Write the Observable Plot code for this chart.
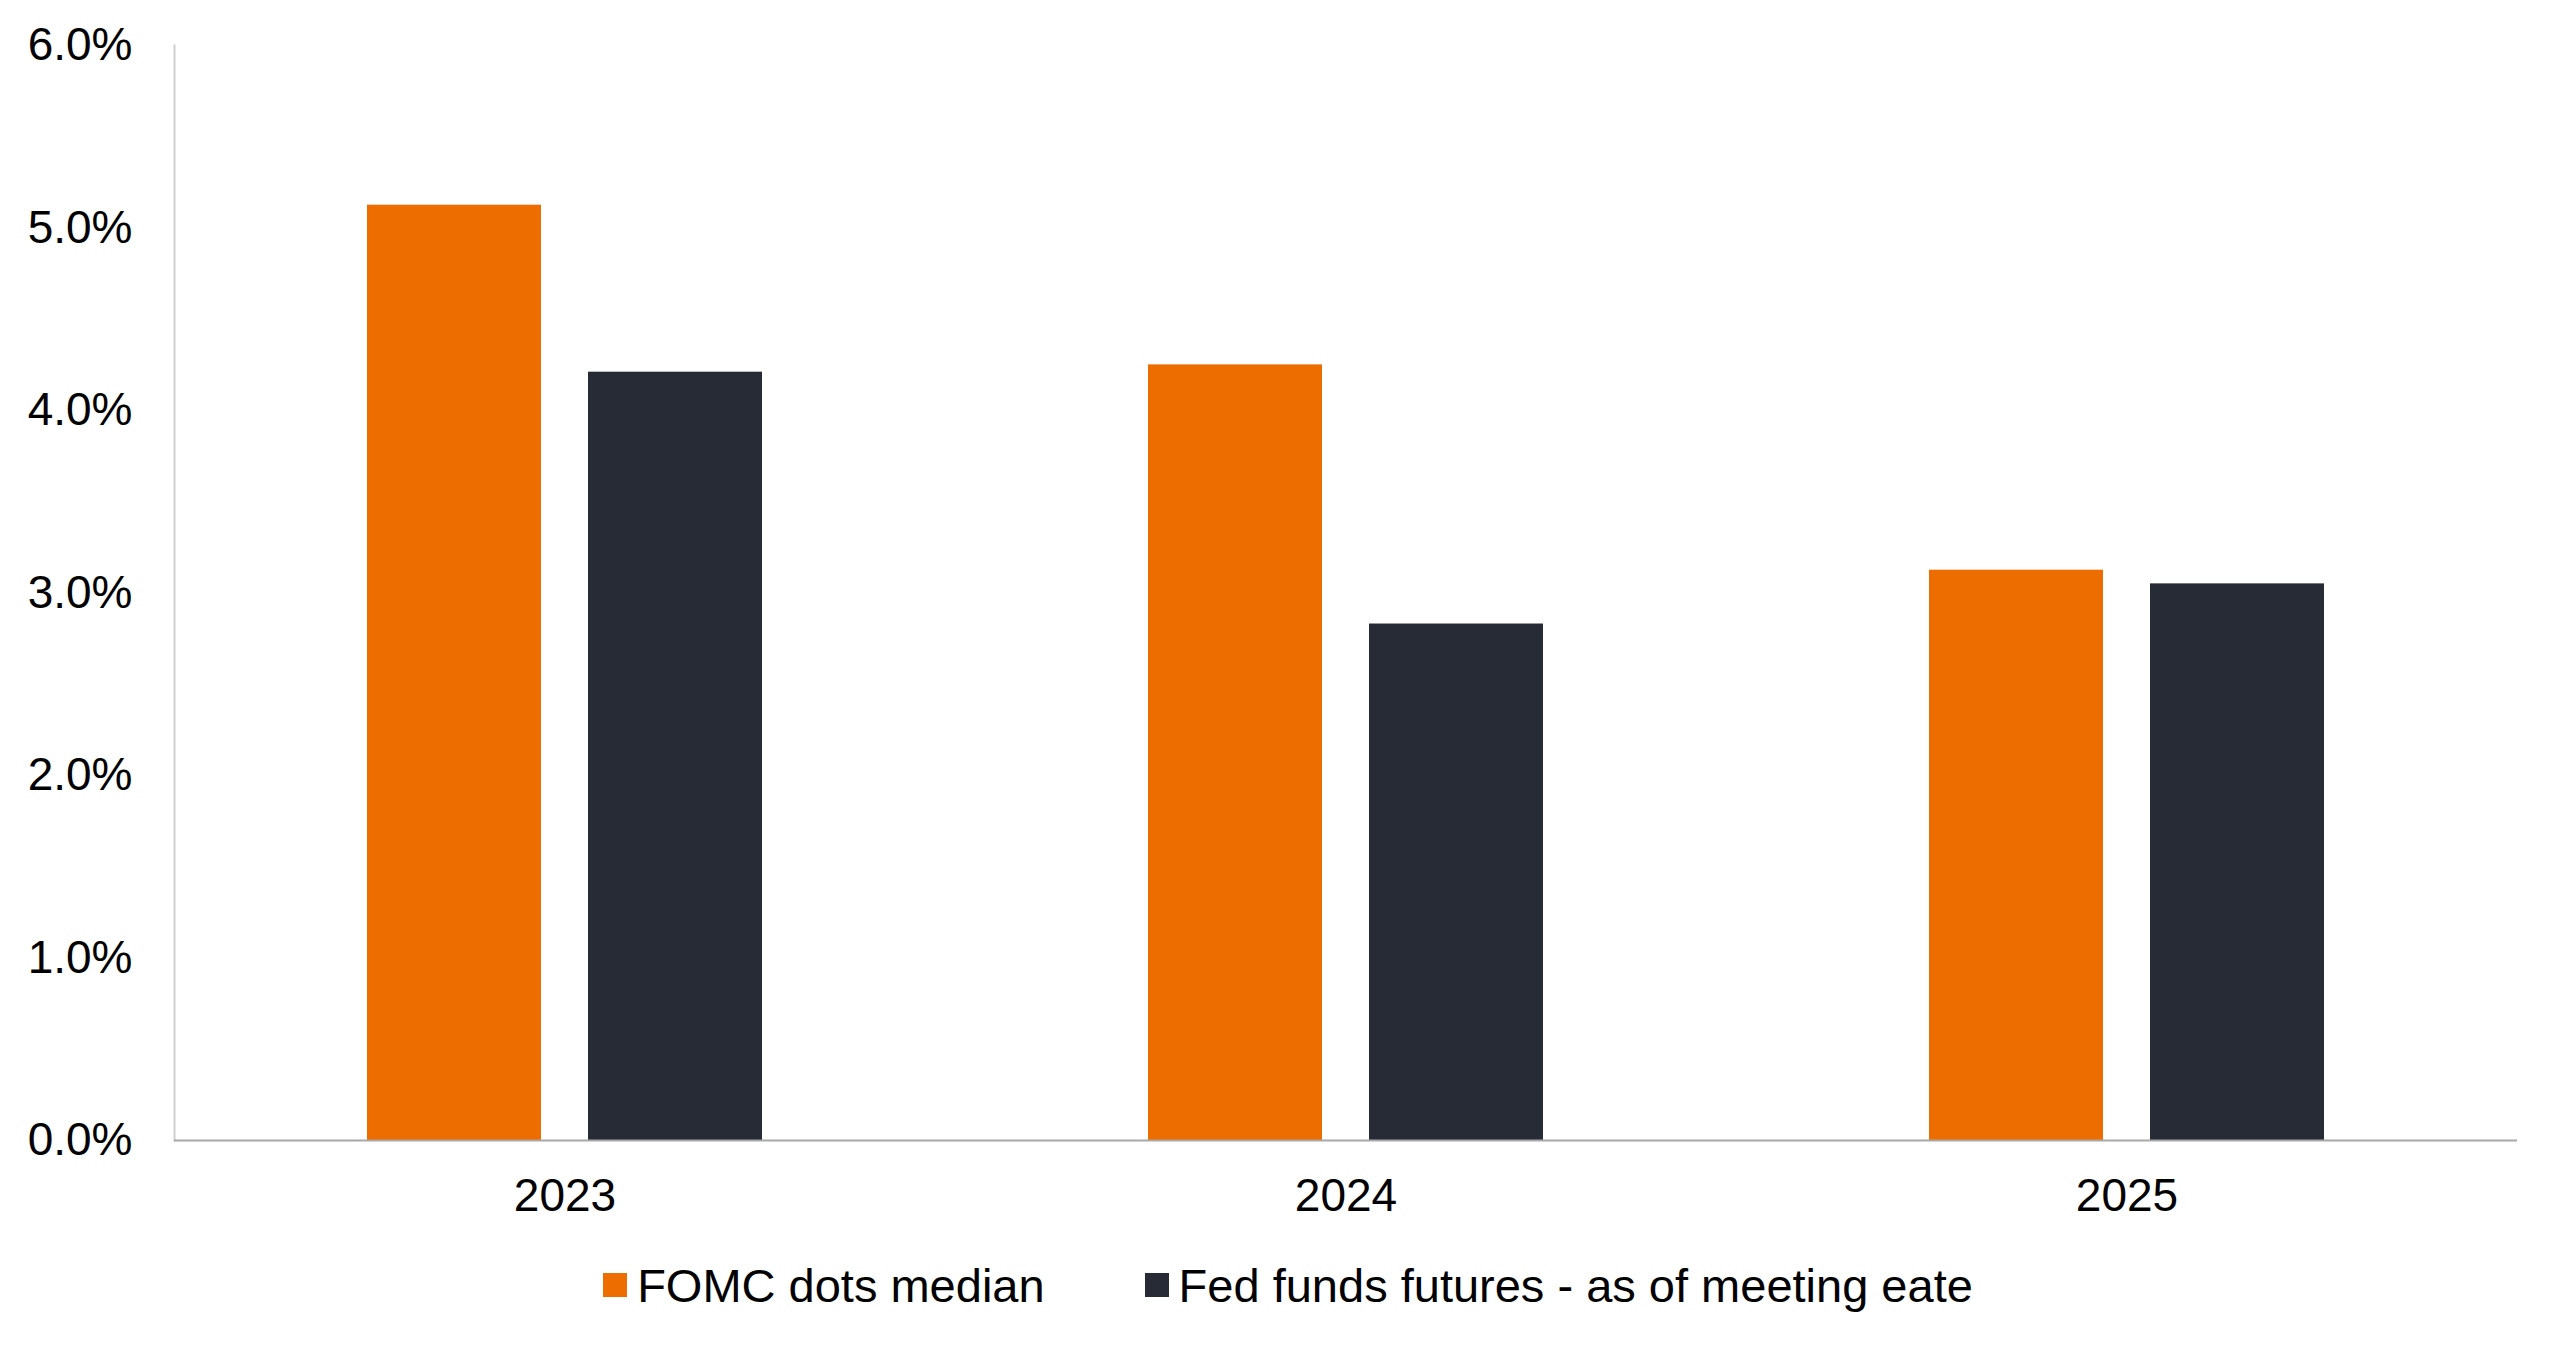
<!DOCTYPE html>
<html>
<head>
<meta charset="utf-8">
<script src="https://cdn.jsdelivr.net/npm/d3@7"></script>
<script src="https://cdn.jsdelivr.net/npm/@observablehq/plot@0.6"></script>
<style>
  html, body { margin: 0; padding: 0; background: #fff; }
  body { width: 2560px; font-family: "Liberation Sans", Arial, sans-serif; }
  #legend { display: flex; justify-content: center; align-items: center; height: 110px; font-size: 47px; color: #000; padding-left: 16px; }
  .item { display: flex; align-items: center; margin: 0 50px; }
  .sw { width: 24px; height: 24px; margin-right: 10px; }
</style>
</head>
<body>
<div id="chart"></div>
<div id="legend"></div>
<script>
const years = ["2023", "2024", "2025"];
const seriesNames = ["FOMC dots median", "Fed funds futures - as of meeting eate"];
const fomcDots = [5.125, 4.25, 3.125];
const fedFutures = [4.21, 2.83, 3.05];
const colors = ["#EE6D00", "#272B36"];
const yTicks = [0, 1, 2, 3, 4, 5, 6];

const data = [];
years.forEach((yr, i) => {
  data.push({year: yr, series: seriesNames[0], value: fomcDots[i]});
  data.push({year: yr, series: seriesNames[1], value: fedFutures[i]});
});

const chart = Plot.plot({
  width: 2560,
  height: 1230,
  marginTop: 45,
  marginBottom: 90,
  marginLeft: 174,
  marginRight: 43,
  style: {fontFamily: '"Liberation Sans", Arial, sans-serif', fontSize: "46px", color: "#000", background: "#fff"},
  fx: {domain: years, padding: 0, label: null},
  x: {domain: seriesNames, paddingInner: 0.2117, paddingOuter: 0.865, axis: null},
  y: {domain: [0, 6], label: null},
  color: {domain: seriesNames, range: colors},
  marks: [
    Plot.frame({anchor: "left", facetAnchor: "left", stroke: "#d0d0d0", strokeWidth: 2}),
    Plot.barY(data, {fx: "year", x: "series", y: "value", fill: "series"}),
    Plot.ruleY([0], {stroke: "#a8a8a8", strokeWidth: 2}),
    Plot.axisY({ticks: yTicks, tickSize: 0, tickPadding: 42, tickFormat: d => d.toFixed(1) + "%", label: null}),
    Plot.axisFx({anchor: "bottom", tickSize: 0, tickPadding: 38, label: null, fontSize: "46px"})
  ]
});
document.getElementById("chart").appendChild(chart);

const legend = document.getElementById("legend");
seriesNames.forEach((name, i) => {
  const item = document.createElement("div");
  item.className = "item";
  const sw = document.createElement("div");
  sw.className = "sw";
  sw.style.background = colors[i];
  const label = document.createElement("span");
  label.textContent = name;
  item.appendChild(sw);
  item.appendChild(label);
  legend.appendChild(item);
});
</script>
</body>
</html>
